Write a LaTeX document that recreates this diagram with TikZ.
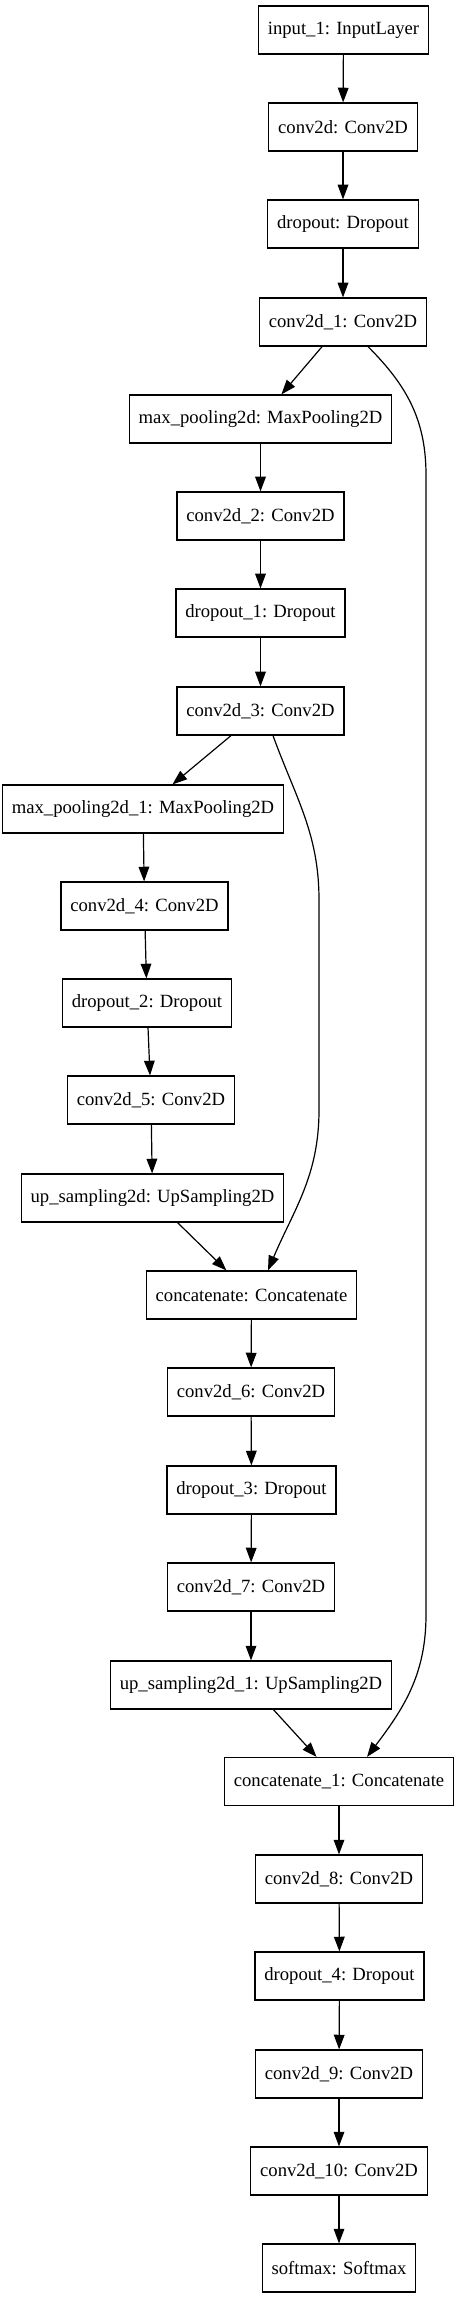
\documentclass[tikz,border=0pt]{standalone}
\usepackage{fontspec}
\setmainfont{Liberation Serif}
\usepackage{tikz}
\usetikzlibrary{positioning, calc, arrows.meta}

\begin{document}
\begin{tikzpicture}[x=0.75pt, y=-0.75pt,
        layer/.style={rectangle, draw, line width=0.9pt, minimum height=36pt, inner xsep=7pt, font=\fontsize{14}{16}\selectfont},
        edge/.style={line width=0.9pt, -{Triangle[length=11pt, width=8pt]}}]
            \useasboundingbox (0, 0) rectangle (457, 2299);

            \node[layer] (in) at (343.5, 30) {input\_1: InputLayer};
            \node[layer] (conv) at (343, 127) {conv2d: Conv2D};
            \node[layer] (drop) at (343, 224) {dropout: Dropout};
            \node[layer] (conv1) at (343, 322) {conv2d\_1: Conv2D};
            \node[layer] (pool) at (260.5, 419) {max\_pooling2d: MaxPooling2D};
            \node[layer] (conv2) at (260.5, 516) {conv2d\_2: Conv2D};
            \node[layer] (drop1) at (260.5, 613) {dropout\_1: Dropout};
            \node[layer] (conv3) at (260.5, 711) {conv2d\_3: Conv2D};
            \node[layer] (pool1) at (143, 809) {max\_pooling2d\_1: MaxPooling2D};
            \node[layer] (conv4) at (144.5, 906) {conv2d\_4: Conv2D};
            \node[layer] (drop2) at (147, 1003) {dropout\_2: Dropout};
            \node[layer] (conv5) at (151, 1100) {conv2d\_5: Conv2D};
            \node[layer] (up) at (152.5, 1198) {up\_sampling2d: UpSampling2D};
            \node[layer] (cat) at (251.5, 1295) {concatenate: Concatenate};
            \node[layer] (conv6) at (251, 1392) {conv2d\_6: Conv2D};
            \node[layer] (drop3) at (251.5, 1490) {dropout\_3: Dropout};
            \node[layer] (conv7) at (251, 1587) {conv2d\_7: Conv2D};
            \node[layer] (up1) at (251, 1685) {up\_sampling2d\_1: UpSampling2D};
            \node[layer] (cat1) at (339, 1781.5) {concatenate\_1: Concatenate};
            \node[layer] (conv8) at (339, 1879) {conv2d\_8: Conv2D};
            \node[layer] (drop4) at (339.5, 1976) {dropout\_4: Dropout};
            \node[layer] (conv9) at (339, 2074) {conv2d\_9: Conv2D};
            \node[layer] (conv10) at (339, 2171) {conv2d\_10: Conv2D};
            \node[layer] (soft) at (339, 2268) {softmax: Softmax};

            \draw[edge] (in) -- (conv);
            \draw[edge] (conv) -- (drop);
            \draw[edge] (drop) -- (conv1);
            \draw[edge] (conv1) -- (pool);
            \draw[edge] (pool) -- (conv2);
            \draw[edge] (conv2) -- (drop1);
            \draw[edge] (drop1) -- (conv3);
            \draw[edge] (conv3) -- (pool1);
            \draw[edge] (pool1) -- (conv4);
            \draw[edge] (conv4) -- (drop2);
            \draw[edge] (drop2) -- (conv5);
            \draw[edge] (conv5) -- (up);
            \draw[edge] (up) -- (cat);
            \draw[edge] (cat) -- (conv6);
            \draw[edge] (conv6) -- (drop3);
            \draw[edge] (drop3) -- (conv7);
            \draw[edge] (conv7) -- (up1);
            \draw[edge] (up1) -- (cat1);
            \draw[edge] (cat1) -- (conv8);
            \draw[edge] (conv8) -- (drop4);
            \draw[edge] (drop4) -- (conv9);
            \draw[edge] (conv9) -- (conv10);
            \draw[edge] (conv10) -- (soft);

            % skip connections
            \draw[edge] ($(conv1.south)+(25, 0)$) to[out=-45, in=90] (426, 475) -- (426, 1615) to[out=-90, in=53] ($(cat1.north)+(28, 0)$);
            \draw[edge] ($(conv3.south)+(12.5, 0)$) to[out=-70, in=90] (319, 900) -- (319, 1110) to[out=-90, in=67] ($(cat.north)+(16.5, 0)$);
        \end{tikzpicture}
\end{document}
